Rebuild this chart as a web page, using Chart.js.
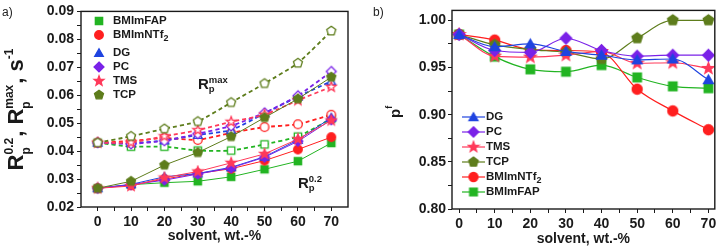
<!DOCTYPE html>
<html lang="en">
<head>
<meta charset="UTF-8">
<title>R_p and p^f vs solvent content</title>
<script src="https://cdn.jsdelivr.net/npm/chart.js@4.4.0/dist/chart.umd.min.js"></script>
<style>
  body { margin: 0; background: #fff; width: 721px; height: 249px; position: relative; overflow: hidden; font-family: "Liberation Sans", Arial, sans-serif; }
  canvas { position: absolute; top: 0; }
  #chartA { left: 0; }
  #chartB { left: 360px; }
  .tag { position: absolute; font-size: 12px; color: #222; line-height: 14px; }
</style>
</head>
<body>
<canvas id="chartA" width="360" height="249"></canvas>
<canvas id="chartB" width="361" height="249"></canvas>
<div class="tag" style="left:2px;top:5px">a)</div>
<div class="tag" style="left:373px;top:5px">b)</div>
<script>
// solvent content, wt.-%
const solvent = [0, 10, 20, 30, 40, 50, 60, 70];
const xTickLabels = [0, 10, 20, 30, 40, 50, 60, 70];

// panel a: R_p^0.2 (solid lines, filled symbols)
const r02FAP  = [0.0267, 0.0280, 0.0287, 0.0292, 0.0308, 0.0335, 0.0364, 0.0429];
const r02NTf2 = [0.0267, 0.0278, 0.0300, 0.0320, 0.0337, 0.0366, 0.0406, 0.0450];
const r02DG   = [0.0267, 0.0281, 0.0308, 0.0320, 0.0342, 0.0380, 0.0440, 0.0520];
const r02PC   = [0.0267, 0.0280, 0.0296, 0.0318, 0.0340, 0.0378, 0.0435, 0.0512];
const r02TMS  = [0.0267, 0.0275, 0.0305, 0.0327, 0.0358, 0.0390, 0.0443, 0.0510];
const r02TCP  = [0.0267, 0.0292, 0.0350, 0.0395, 0.0452, 0.0520, 0.0587, 0.0665];

// panel a: R_p^max (dashed lines, open symbols)
const rmaxFAP  = [0.0430, 0.0416, 0.0416, 0.0402, 0.0402, 0.0424, 0.0452, 0.0516];
const rmaxNTf2 = [0.0430, 0.0436, 0.0447, 0.0440, 0.0465, 0.0486, 0.0496, 0.0530];
const rmaxDG   = [0.0430, 0.0428, 0.0438, 0.0458, 0.0475, 0.0535, 0.0595, 0.0650];
const rmaxPC   = [0.0430, 0.0426, 0.0437, 0.0462, 0.0490, 0.0537, 0.0598, 0.0685];
const rmaxTMS  = [0.0430, 0.0431, 0.0453, 0.0475, 0.0505, 0.0530, 0.0582, 0.0630];
const rmaxTCP  = [0.0430, 0.0453, 0.0480, 0.0506, 0.0574, 0.0642, 0.0715, 0.0830];

// panel b: p^f
const pfDG   = [0.985, 0.972, 0.975, 0.967, 0.963, 0.958, 0.959, 0.937];
const pfPC   = [0.985, 0.968, 0.966, 0.981, 0.968, 0.962, 0.963, 0.963];
const pfTMS  = [0.985, 0.962, 0.961, 0.963, 0.967, 0.9545, 0.955, 0.949];
const pfTCP  = [0.985, 0.974, 0.969, 0.966, 0.959, 0.981, 1.000, 1.000];
const pfNTf2 = [0.985, 0.979, 0.969, 0.968, 0.966, 0.927, 0.904, 0.884];
const pfFAP  = [0.985, 0.9615, 0.948, 0.9455, 0.9525, 0.9395, 0.930, 0.928];

const colFAP = '#22b422', colNTf2 = '#ff1f1f', colDG = '#1f44e0',
      colPC = '#7a22e8', colTMS = '#ff3a5a', colTCP = '#5e7d1c';
const ink = '#1a1a1a';
const FONT = '"Liberation Sans", Arial, sans-serif';

// symbols drawn once into small canvases, used as pointStyle and in the legends
function marker(shape, color, filled, r) {
  const s = Math.ceil(r * 2 + 5);
  const c = document.createElement('canvas');
  c.width = s; c.height = s;
  const g = c.getContext('2d');
  const m = s / 2;
  g.beginPath();
  if (shape === 'circle') {
    g.arc(m, m, r, 0, Math.PI * 2);
  } else if (shape === 'square') {
    g.rect(m - r * 0.85, m - r * 0.85, r * 1.7, r * 1.7);
  } else {
    let n = 5, rad = i => r * 1.1, off = 0;
    if (shape === 'triangle') { n = 3; rad = () => r * 1.15; off = r * 0.2; }
    if (shape === 'diamond') { n = 4; rad = () => r * 1.15; }
    if (shape === 'star') { n = 10; rad = i => (i % 2 ? r * 0.5 : r * 1.2); }
    for (let i = 0; i < n; i++) {
      const a = -Math.PI / 2 + i * 2 * Math.PI / n;
      g.lineTo(m + rad(i) * Math.cos(a), m + off + rad(i) * Math.sin(a));
    }
    g.closePath();
  }
  g.fillStyle = filled ? color : '#fff';
  g.fill();
  g.lineWidth = 1.3;
  g.strokeStyle = color;
  g.stroke();
  return c;
}

function pts(vals) { return vals.map((v, i) => ({ x: solvent[i], y: v })); }

function drawRich(ctx, parts, x, y, subDy, supDy) {
  let cx = x;
  for (const p of parts) {
    ctx.font = p.f;
    if (p.t !== undefined) {
      ctx.fillText(p.t, cx, y);
      cx += ctx.measureText(p.t).width;
    } else {
      let w = 0;
      if (p.sub) { ctx.fillText(p.sub, cx, y + subDy); w = Math.max(w, ctx.measureText(p.sub).width); }
      if (p.sup) { ctx.fillText(p.sup, cx, y + supDy); w = Math.max(w, ctx.measureText(p.sup).width); }
      cx += w + 1;
    }
  }
  return cx - x;
}

function frame(ctx, a) {
  ctx.strokeStyle = ink;
  ctx.lineWidth = 1.4;
  ctx.strokeRect(a.left, a.top, a.right - a.left, a.bottom - a.top);
}

function tickFont() { return { family: FONT, size: 14, weight: 'bold' }; }
function gridOpts() { return { display: true, drawOnChartArea: false, drawTicks: true, tickLength: 4, color: ink, lineWidth: 1 }; }
function xTicks(scale) {
  const t = [];
  for (let i = 0; i < xTickLabels.length; i++) {
    t.push({ value: xTickLabels[i] });
    if (i < xTickLabels.length - 1) t.push({ value: (xTickLabels[i] + xTickLabels[i + 1]) / 2 });
  }
  scale.ticks = t;
}
function xLabel(v) { return xTickLabels.includes(v) ? String(v) : ''; }

// ---------- panel a ----------
const rA = 4.3;
const seriesA = [
  { name: 'TCP',  solid: r02TCP,  open: rmaxTCP,  color: colTCP,  shape: 'pentagon' },
  { name: 'TMS',  solid: r02TMS,  open: rmaxTMS,  color: colTMS,  shape: 'star' },
  { name: 'PC',   solid: r02PC,   open: rmaxPC,   color: colPC,   shape: 'diamond' },
  { name: 'DG',   solid: r02DG,   open: rmaxDG,   color: colDG,   shape: 'triangle' },
  { name: 'BMImNTf2', solid: r02NTf2, open: rmaxNTf2, color: colNTf2, shape: 'circle' },
  { name: 'BMImFAP',  solid: r02FAP,  open: rmaxFAP,  color: colFAP,  shape: 'square' }
];
const legendOrderA = ['BMImFAP', 'BMImNTf2', 'DG', 'PC', 'TMS', 'TCP'];

const datasetsA = [];
seriesA.forEach(s => {
  datasetsA.push({
    label: s.name + ' Rp0.2', data: pts(s.solid),
    borderColor: s.color, borderWidth: 1, tension: 0,
    pointStyle: marker(s.shape, s.color, true, rA)
  });
});
seriesA.forEach(s => {
  datasetsA.push({
    label: s.name + ' Rpmax', data: pts(s.open),
    borderColor: s.color, borderWidth: 1.8, borderDash: [4, 3], tension: 0.15,
    pointStyle: marker(s.shape, s.color, false, rA)
  });
});

const decorA = {
  id: 'decorA',
  afterDraw(chart) {
    const ctx = chart.ctx;
    ctx.save();
    frame(ctx, chart.chartArea);
    ctx.fillStyle = ink;
    // legend
    legendOrderA.forEach((name, i) => {
      const s = seriesA.find(d => d.name === name);
      const y = 21 + i * 14 + (i >= 2 ? 4 : 0);
      const img = marker(s.shape, s.color, true, rA);
      ctx.drawImage(img, 99 - img.width / 2, y - img.height / 2);
      ctx.textBaseline = 'middle';
      ctx.font = 'bold 11.5px ' + FONT;
      if (name === 'BMImNTf2') {
        ctx.fillText('BMImNTf', 113, y);
        const w = ctx.measureText('BMImNTf').width;
        ctx.font = 'bold 9px ' + FONT;
        ctx.fillText('2', 113 + w, y + 4);
      } else {
        ctx.fillText(name, 113, y);
      }
    });
    // curve annotations
    ctx.textBaseline = 'alphabetic';
    const bigR = 'bold 15px ' + FONT, smallR = 'bold 9.5px ' + FONT;
    drawRich(ctx, [{ t: 'R', f: bigR }, { sub: 'p', sup: 'max', f: smallR }], 198, 89, 3, -6);
    drawRich(ctx, [{ t: 'R', f: bigR }, { sub: 'p', sup: '0.2', f: smallR }], 298, 188, 3, -6);
    // y title
    const big = 'bold 22px ' + FONT, small = 'bold 12px ' + FONT;
    const parts = [
      { t: 'R', f: big }, { sub: 'p', sup: '0.2', f: small }, { t: ', ', f: big },
      { t: 'R', f: big }, { sub: 'p', sup: 'max', f: small }, { t: ', ', f: big },
      { t: 's', f: big }, { sup: '-1', f: small }
    ];
    ctx.translate(23, 109);
    ctx.rotate(-Math.PI / 2);
    ctx.globalAlpha = 0;
    const w = drawRich(ctx, parts, 0, 0, 7, -10);
    ctx.globalAlpha = 1;
    drawRich(ctx, parts, -w / 2, 0, 7, -10);
    ctx.restore();
  }
};

new Chart(document.getElementById('chartA'), {
  type: 'line',
  data: { datasets: datasetsA },
  options: {
    responsive: false,
    animation: false,
    events: [],
    layout: { padding: { top: 7, right: 12, left: 0, bottom: 0 } },
    elements: { point: { radius: rA } },
    plugins: { legend: { display: false }, tooltip: { enabled: false } },
    scales: {
      x: {
        type: 'linear', min: -5, max: 75,
        afterBuildTicks: xTicks,
        ticks: { callback: xLabel, font: tickFont(), color: ink, padding: 3, maxRotation: 0, autoSkip: false },
        grid: gridOpts(),
        border: { display: false },
        title: { display: true, text: 'solvent, wt.-%', font: tickFont(), color: ink, padding: { top: 0, bottom: 4 } },
        afterFit: s => { s.height = 42; }
      },
      y: {
        type: 'linear', min: 0.02, max: 0.09,
        afterBuildTicks: s => {
          const t = [];
          for (let k = 0; k <= 14; k++) t.push({ value: 0.02 + k * 0.005 });
          s.ticks = t;
        },
        ticks: {
          callback: v => (Math.round(v * 1000) % 10 === 0 ? v.toFixed(2) : ''),
          font: tickFont(), color: ink, padding: 3, autoSkip: false
        },
        grid: gridOpts(),
        border: { display: false },
        afterFit: s => { s.width = 81; }
      }
    }
  },
  plugins: [decorA]
});

// ---------- panel b ----------
const rB = 5;
const seriesB = [
  { name: 'DG',       vals: pfDG,   color: colDG,   shape: 'triangle' },
  { name: 'PC',       vals: pfPC,   color: colPC,   shape: 'diamond' },
  { name: 'TMS',      vals: pfTMS,  color: colTMS,  shape: 'star' },
  { name: 'TCP',      vals: pfTCP,  color: colTCP,  shape: 'pentagon' },
  { name: 'BMImNTf2', vals: pfNTf2, color: colNTf2, shape: 'circle' },
  { name: 'BMImFAP',  vals: pfFAP,  color: colFAP,  shape: 'square' }
];

const datasetsB = seriesB.map(s => ({
  label: s.name, data: pts(s.vals),
  borderColor: s.color, borderWidth: 1.2,
  cubicInterpolationMode: 'monotone',
  pointStyle: marker(s.shape, s.color, true, rB)
}));

const decorB = {
  id: 'decorB',
  afterDraw(chart) {
    const ctx = chart.ctx;
    ctx.save();
    frame(ctx, chart.chartArea);
    ctx.fillStyle = ink;
    seriesB.forEach((s, i) => {
      const y = 117 + i * 15;
      ctx.strokeStyle = s.color;
      ctx.lineWidth = 1.2;
      ctx.beginPath();
      ctx.moveTo(102, y); ctx.lineTo(125, y);
      ctx.stroke();
      const img = marker(s.shape, s.color, true, rB - 0.5);
      ctx.drawImage(img, 113.5 - img.width / 2, y - img.height / 2);
      ctx.textBaseline = 'middle';
      ctx.font = 'bold 11.5px ' + FONT;
      if (s.name === 'BMImNTf2') {
        ctx.fillText('BMImNTf', 126, y);
        const w = ctx.measureText('BMImNTf').width;
        ctx.font = 'bold 9px ' + FONT;
        ctx.fillText('2', 126 + w, y + 4);
      } else {
        ctx.fillText(s.name, 126, y);
      }
    });
    // y title p^f
    ctx.textBaseline = 'alphabetic';
    ctx.translate(40, 112);
    ctx.rotate(-Math.PI / 2);
    drawRich(ctx, [{ t: 'p', f: 'bold 15px ' + FONT }, { sup: 'f', f: 'bold 9px ' + FONT }], -6, 0, 0, -8);
    ctx.restore();
  }
};

new Chart(document.getElementById('chartB'), {
  type: 'line',
  data: { datasets: datasetsB },
  options: {
    responsive: false,
    animation: false,
    events: [],
    layout: { padding: { top: 9, right: 3, left: 0, bottom: 0 } },
    elements: { point: { radius: rB } },
    plugins: { legend: { display: false }, tooltip: { enabled: false } },
    scales: {
      x: {
        type: 'linear', min: -2, max: 71.8,
        afterBuildTicks: xTicks,
        ticks: { callback: xLabel, font: tickFont(), color: ink, padding: 3, maxRotation: 0, autoSkip: false },
        grid: gridOpts(),
        border: { display: false },
        title: { display: true, text: 'solvent, wt.-%', font: tickFont(), color: ink, padding: { top: 0, bottom: 1 } },
        afterFit: s => { s.height = 40; }
      },
      y: {
        type: 'linear', min: 0.8, max: 1.0105,
        afterBuildTicks: s => {
          const t = [];
          for (let k = 0; k <= 8; k++) t.push({ value: 0.8 + k * 0.025 });
          s.ticks = t;
        },
        ticks: {
          callback: v => (Math.round(v * 1000) % 50 === 0 ? v.toFixed(2) : ''),
          font: tickFont(), color: ink, padding: 2, autoSkip: false
        },
        grid: gridOpts(),
        border: { display: false },
        afterFit: s => { s.width = 92; }
      }
    }
  },
  plugins: [decorB]
});
</script>
</body>
</html>
